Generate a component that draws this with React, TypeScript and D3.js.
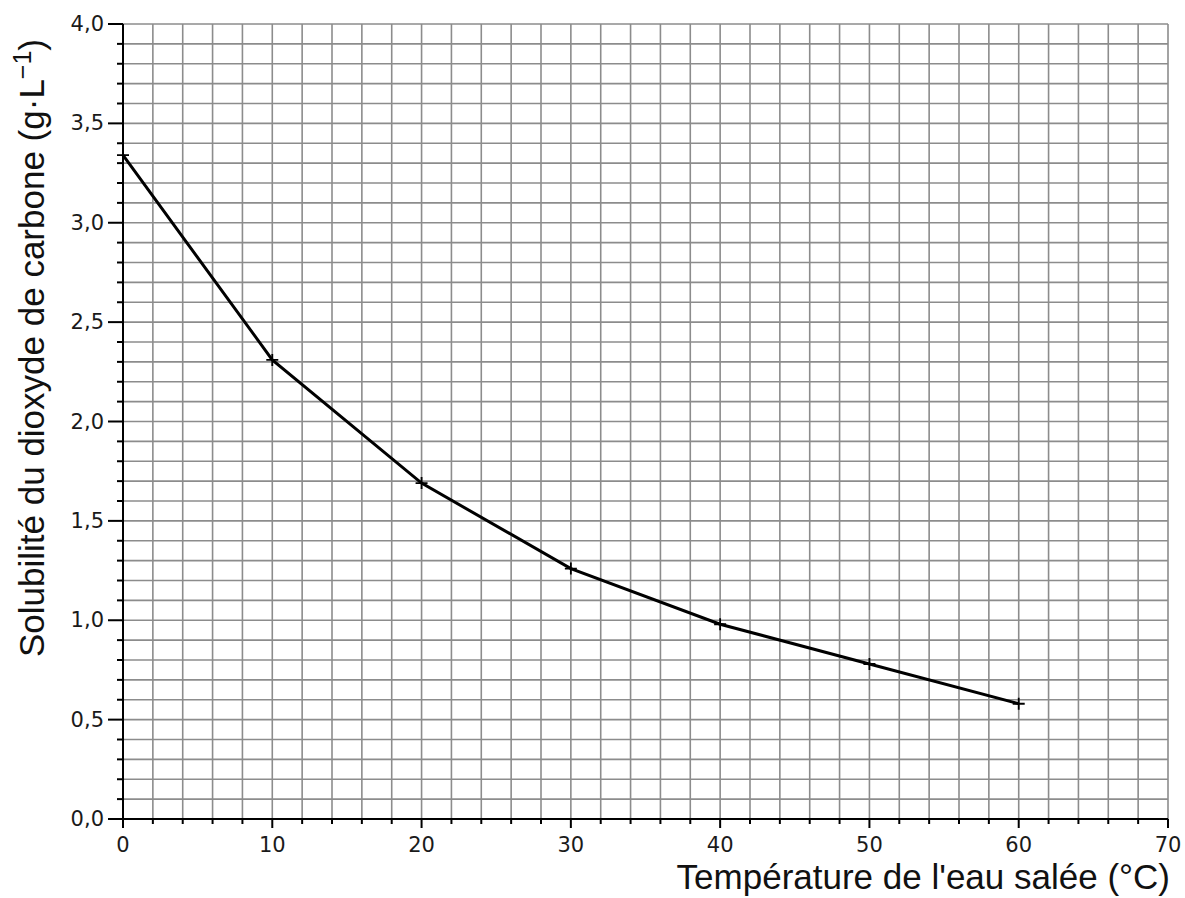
import React, { useEffect, useRef } from 'react';
import * as d3 from 'd3';

// temperatures (°C) and CO2 solubility (g/L)
const temperatures = [0, 10, 20, 30, 40, 50, 60];
const solubility = [3.34, 2.31, 1.69, 1.26, 0.98, 0.78, 0.58];

const xMajorTicks = [0, 10, 20, 30, 40, 50, 60, 70];
const yMajorTicks = [0, 0.5, 1.0, 1.5, 2.0, 2.5, 3.0, 3.5, 4.0];

const xLabel = "Température de l'eau salée (°C)";
const yLabel = 'Solubilité du dioxyde de carbone (g·L';

const width = 1185;
const height = 898;

const App: React.FC = () => {
  const svgRef = useRef<SVGSVGElement>(null);

  useEffect(() => {
    if (!svgRef.current) return;
    const svg = d3.select(svgRef.current);
    svg.selectAll('*').remove();

    const x = d3.scaleLinear().domain([0, 70]).range([123, 1168]);
    const y = d3.scaleLinear().domain([0, 4]).range([819, 24]);

    const xMinor = d3.range(0, 70.001, 2);
    const yMinor = d3.range(0, 4.0001, 0.1).map(v => +v.toFixed(1));

    // grid
    const grid = svg.append('g').attr('stroke', '#8c8c8c').attr('stroke-width', 1.6);
    grid.selectAll('.vg')
      .data(xMinor.slice(1))
      .enter()
      .append('line')
      .attr('x1', d => x(d)).attr('x2', d => x(d))
      .attr('y1', y(0)).attr('y2', y(4));
    grid.selectAll('.hg')
      .data(yMinor.slice(1))
      .enter()
      .append('line')
      .attr('x1', x(0)).attr('x2', x(70))
      .attr('y1', d => y(d)).attr('y2', d => y(d));

    // axes
    const axes = svg.append('g').attr('stroke', '#000').attr('stroke-width', 2);
    axes.append('line').attr('x1', x(0)).attr('x2', x(70)).attr('y1', y(0)).attr('y2', y(0));
    axes.append('line').attr('x1', x(0)).attr('x2', x(0)).attr('y1', y(0)).attr('y2', y(4));

    axes.selectAll('.xt')
      .data(xMinor)
      .enter()
      .append('line')
      .attr('x1', d => x(d)).attr('x2', d => x(d))
      .attr('y1', y(0))
      .attr('y2', d => y(0) + (d % 10 === 0 ? 9 : 5));

    axes.selectAll('.yt')
      .data(yMinor)
      .enter()
      .append('line')
      .attr('y1', d => y(d)).attr('y2', d => y(d))
      .attr('x1', x(0))
      .attr('x2', d => x(0) - (Math.abs((d * 2) % 1) < 1e-6 ? 15 : 6));

    const tickFont = '"DejaVu Sans", sans-serif';
    svg.append('g')
      .selectAll('text')
      .data(xMajorTicks)
      .enter()
      .append('text')
      .attr('x', d => x(d))
      .attr('y', y(0) + 33)
      .attr('text-anchor', 'middle')
      .style('font-family', tickFont)
      .style('font-size', '21px')
      .attr('fill', '#1a1a1a')
      .text(d => String(d));

    svg.append('g')
      .selectAll('text')
      .data(yMajorTicks)
      .enter()
      .append('text')
      .attr('x', x(0) - 19)
      .attr('y', d => y(d) + 7)
      .attr('text-anchor', 'end')
      .style('font-family', tickFont)
      .style('font-size', '21px')
      .attr('fill', '#1a1a1a')
      .text(d => d.toFixed(1).replace('.', ','));

    // curve
    const pts = temperatures.map((t, i) => [t, solubility[i]] as [number, number]);
    const line = d3.line<[number, number]>().x(d => x(d[0])).y(d => y(d[1]));
    svg.append('path')
      .datum(pts)
      .attr('d', line)
      .attr('fill', 'none')
      .attr('stroke', '#000')
      .attr('stroke-width', 3);

    svg.append('g')
      .selectAll('path')
      .data(pts)
      .enter()
      .append('path')
      .attr('d', d => {
        const cx = x(d[0]);
        const cy = y(d[1]);
        return `M${cx - 6},${cy}H${cx + 6}M${cx},${cy - 6}V${cy + 6}`;
      })
      .attr('stroke', '#000')
      .attr('stroke-width', 1.8);

    // axis titles
    const titleFont = '"Liberation Sans", Arial, sans-serif';
    svg.append('text')
      .attr('x', 1170)
      .attr('y', 889)
      .attr('text-anchor', 'end')
      .style('font-family', titleFont)
      .style('font-size', '35px')
      .attr('fill', '#111')
      .text(xLabel);

    const yt = svg.append('text')
      .attr('transform', 'translate(44,348) rotate(-90)')
      .attr('text-anchor', 'middle')
      .style('font-family', titleFont)
      .style('font-size', '35px')
      .attr('fill', '#111');
    yt.append('tspan').text(yLabel);
    yt.append('tspan').attr('dy', -13).style('font-size', '25px').text('−1');
    yt.append('tspan').attr('dy', 13).text(')');
  }, []);

  return (
    <svg
      ref={svgRef}
      width={width}
      height={height}
      style={{ position: 'absolute', left: 0, top: 0, background: '#fff' }}
    />
  );
};

export default App;
